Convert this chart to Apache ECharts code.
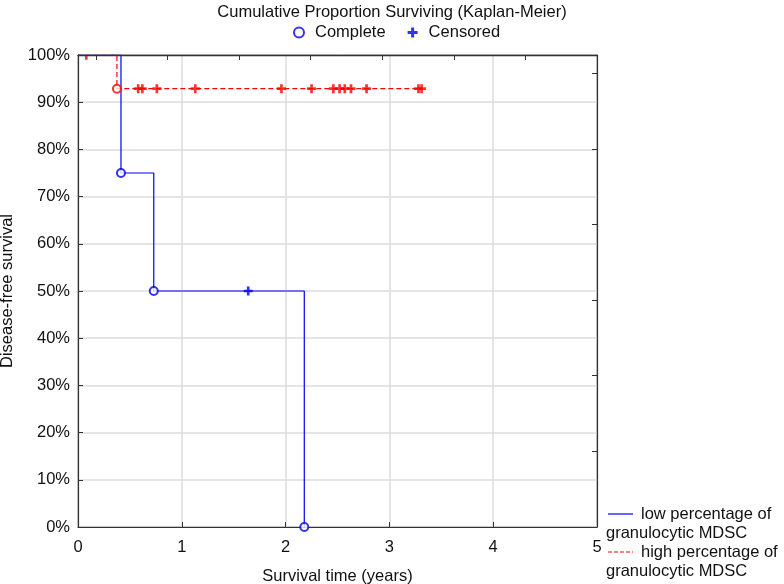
<!DOCTYPE html>
<html><head><meta charset="utf-8">
<script src="https://cdn.jsdelivr.net/npm/echarts@6/dist/echarts.min.js"></script>
<style>html,body{margin:0;padding:0;background:#fff}#c{width:784px;height:584px}</style>
</head><body><div id="c"></div>
<script>
// ---- data ----
var titleText = 'Cumulative Proportion Surviving (Kaplan-Meier)';
var xTicks = [0, 1, 2, 3, 4, 5];
var yTicks = [0, 10, 20, 30, 40, 50, 60, 70, 80, 90, 100];
var lowName = 'low percentage of\ngranulocytic MDSC';
var highName = 'high percentage of\ngranulocytic MDSC';
// low group: event times and survival after each event
var lowEventTimes = [0.414, 0.73, 2.18];
var lowEventSurv = [75, 50, 0];
var lowCensorTimes = [1.64];
var lowEnd = 2.18;
// high group
var highEventTimes = [0.375];
var highEventSurv = [92.86];
var highCensorTimes = [0.08, 0.58, 0.62, 0.76, 1.13, 1.96, 2.25, 2.46, 2.52, 2.57, 2.63, 2.78, 3.28, 3.31];
var highEnd = 3.31;

var BLUE = '#0000ee', RED = '#ff0000';
var FONT = 'Liberation Sans';
var FS = 16.5;
var PLUS = 'path://M3.5,0h3v3.5h3.5v3h-3.5v3.5h-3v-3.5h-3.5v-3h3.5z';
var HALF = 'path://M0,0h3v5h-3z'; // lower arm of a plus clipped by the frame

function survAt(times, surv, t) {
  var s = 100;
  for (var i = 0; i < times.length; i++) if (times[i] <= t) s = surv[i];
  return s;
}
function stepLine(times, surv, end) {
  var pts = [[0, 100]], s = 100;
  for (var i = 0; i < times.length; i++) {
    pts.push([times[i], s]);
    s = surv[i];
    pts.push([times[i], s]);
  }
  if (end > times[times.length - 1]) pts.push([end, s]);
  return pts;
}
function events(times, surv) { return times.map(function (t, i) { return [t, surv[i]]; }); }
function censors(ct, times, surv) {
  return ct.map(function (t) {
    var s = survAt(times, surv, t);
    if (s >= 100) return {value: [t, s], symbol: HALF, symbolSize: [2.6, 4.5], symbolOffset: [0, 2.5]};
    return [t, s];
  });
}

var chart = echarts.init(document.getElementById('c'), null, {renderer: 'canvas'});
var lbl = {fontFamily: FONT, fontSize: FS, color: '#111'};
var axCol = '#333';
var option = {
  animation: false,
  backgroundColor: '#fff',
  textStyle: {fontFamily: FONT},
  title: {text: titleText, left: 'center', top: -1,
    textStyle: {fontFamily: FONT, fontSize: FS, fontWeight: 'normal', color: '#111'}},
  legend: {top: 19, left: 288, itemGap: 22, itemWidth: 10, itemHeight: 10,
    textStyle: {fontFamily: FONT, fontSize: FS, color: '#111', padding: [0, 0, 0, 6]},
    data: [
      {name: 'Complete', icon: 'emptyCircle', itemStyle: {color: BLUE, borderColor: BLUE, borderWidth: 1.5}},
      {name: 'Censored', icon: PLUS, itemStyle: {color: BLUE, borderWidth: 0}}
    ]},
  grid: {left: 78, right: 187, top: 55, bottom: 57, show: true, borderColor: axCol, borderWidth: 1,
    containLabel: false, outerBoundsMode: 'none'},
  xAxis: [
    {type: 'value', position: 'bottom', min: 0, max: 5, interval: 1,
      name: 'Survival time (years)', nameLocation: 'middle', nameGap: 41,
      nameTextStyle: lbl,
      axisLine: {show: true, onZero: false, lineStyle: {color: axCol, width: 1.2}},
      axisTick: {show: true, inside: true, length: 5, lineStyle: {color: axCol}},
      axisLabel: {fontFamily: FONT, fontSize: FS, color: '#111', margin: 12},
      splitLine: {show: true, lineStyle: {color: '#dcdcdc', width: 1.5}}},
    {type: 'value', position: 'top', inverse: true, min: 0, max: 7.25, interval: 1, z: 10,
      axisLine: {show: true, onZero: false, lineStyle: {color: axCol, width: 1.4}},
      axisTick: {show: true, inside: true, length: 5, lineStyle: {color: axCol}},
      axisLabel: {show: false}, splitLine: {show: false}}
  ],
  yAxis: [
    {type: 'value', position: 'left', min: 0, max: 100, interval: 10,
      name: 'Disease-free survival', nameLocation: 'middle', nameGap: 62,
      nameTextStyle: lbl,
      axisLine: {show: true, onZero: false, lineStyle: {color: axCol, width: 1.2}},
      axisTick: {show: true, inside: true, length: 5, lineStyle: {color: axCol}},
      axisLabel: {fontFamily: FONT, fontSize: FS, color: '#111', margin: 8, formatter: '{value}%'},
      splitLine: {show: true, lineStyle: {color: '#dcdcdc', width: 1.5}}},
    {type: 'value', position: 'right', min: 0, max: 6.24, interval: 1, z: 10,
      axisLine: {show: true, onZero: false, lineStyle: {color: axCol, width: 1.2}},
      axisTick: {show: true, inside: true, length: 5, lineStyle: {color: axCol}},
      axisLabel: {show: false}, splitLine: {show: false}}
  ],
  series: [
    {type: 'line', name: lowName, data: stepLine(lowEventTimes, lowEventSurv, lowEnd),
      symbol: 'none', lineStyle: {color: BLUE, width: 1.2}, itemStyle: {color: BLUE}, z: 3},
    {type: 'line', name: highName, data: stepLine(highEventTimes, highEventSurv, highEnd),
      symbol: 'none', lineStyle: {color: RED, width: 1.2, type: [5, 3]}, itemStyle: {color: RED}, z: 3},
    {type: 'scatter', name: 'Complete', data: events(lowEventTimes, lowEventSurv),
      symbol: 'emptyCircle', symbolSize: 8, clip: false,
      itemStyle: {color: BLUE, borderColor: BLUE, borderWidth: 1.2}, z: 4},
    {type: 'scatter', name: 'Complete', data: events(highEventTimes, highEventSurv),
      symbol: 'emptyCircle', symbolSize: 8, clip: false,
      itemStyle: {color: RED, borderColor: RED, borderWidth: 1.2}, z: 4},
    {type: 'scatter', name: 'Censored', data: censors(lowCensorTimes, lowEventTimes, lowEventSurv),
      symbol: PLUS, symbolSize: 9, itemStyle: {color: BLUE}, z: 4},
    {type: 'scatter', name: 'Censored', data: censors(highCensorTimes, highEventTimes, highEventSurv),
      symbol: PLUS, symbolSize: 9, itemStyle: {color: RED}, z: 4}
  ],
  graphic: [
    {type: 'line', shape: {x1: 608, y1: 514, x2: 633, y2: 514}, style: {stroke: BLUE, lineWidth: 1.2}},
    {type: 'text', x: 641, y: 514, style: {text: 'low percentage of', font: FS + 'px "Liberation Sans"', fill: '#111', textVerticalAlign: 'middle'}},
    {type: 'text', x: 606, y: 533, style: {text: 'granulocytic MDSC', font: FS + 'px "Liberation Sans"', fill: '#111', textVerticalAlign: 'middle'}},
    {type: 'line', shape: {x1: 608, y1: 552, x2: 633, y2: 552}, style: {stroke: RED, lineWidth: 1.2, lineDash: [4, 2]}},
    {type: 'text', x: 641, y: 552, style: {text: 'high percentage of', font: FS + 'px "Liberation Sans"', fill: '#111', textVerticalAlign: 'middle'}},
    {type: 'text', x: 606, y: 571, style: {text: 'granulocytic MDSC', font: FS + 'px "Liberation Sans"', fill: '#111', textVerticalAlign: 'middle'}}
  ]
};
chart.setOption(option);
</script>
</body></html>
